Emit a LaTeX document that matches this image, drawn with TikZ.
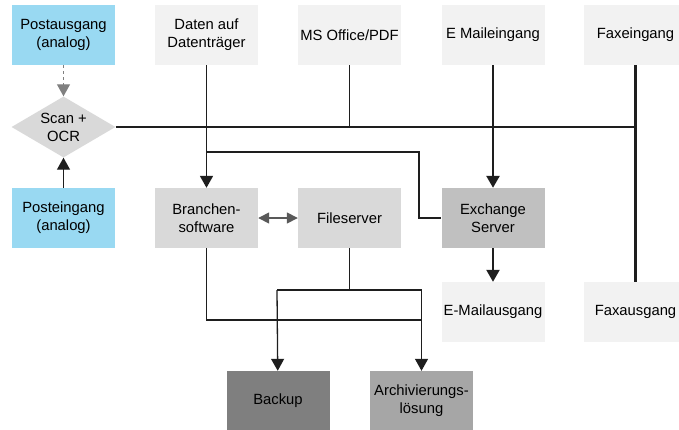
\documentclass[tikz,border=0pt]{standalone}
\usepackage{fontspec}
\setmainfont{Liberation Sans}
\usetikzlibrary{shapes.geometric,arrows.meta}
\definecolor{postblue}{RGB}{153,217,242}
\definecolor{boxlight}{RGB}{242,242,242}
\definecolor{boxmid}{RGB}{217,217,217}
\definecolor{boxexch}{RGB}{192,192,192}
\definecolor{boxarch}{RGB}{166,166,166}
\definecolor{boxback}{RGB}{127,127,127}
\definecolor{linegray}{RGB}{30,30,30}
\tikzset{
  box/.style={rectangle, minimum width=103pt, minimum height=60pt, inner sep=0pt,
    align=center, font=\fontsize{14.8}{18}\selectfont},
  conn/.style={draw=linegray, line width=1.3pt},
  tip/.style={-{Triangle[width=13pt,length=12pt]}}
}
\begin{document}
\begin{tikzpicture}[x=1pt,y=-1pt]
\useasboundingbox (0,0) rectangle (679,429);
\begin{scope}
\clip (0,0) rectangle (679,429);
\node[box, fill=postblue] (postout) at (63.5,35){Postausgang\\(analog)};
\node[box, fill=boxlight] (daten) at (206.5,35){Daten auf\\Datenträger};
\node[box, fill=boxlight] (office) at (349.5,35){MS Office/PDF};
\node[box, fill=boxlight] (mailin) at (493,35){E Maileingang};
\node[box, fill=boxlight] (faxin) at (635.5,35){Faxeingang};
\node[diamond, minimum width=104pt, minimum height=61pt, aspect=1.7, inner sep=0pt,
  fill=boxmid, align=center, font=\fontsize{14.8}{18}\selectfont] (scan) at (63.5,127){Scan +\\OCR};
\node[box, fill=postblue] (postin) at (63.5,218){Posteingang\\(analog)};
\node[box, fill=boxmid] (branche) at (206.5,218){Branchen-\\software};
\node[box, fill=boxmid] (files) at (349.5,218){Fileserver};
\node[box, fill=boxexch] (exch) at (493,218){Exchange\\Server};
\node[box, fill=boxlight] (mailout) at (493,312){E-Mailausgang};
\node[box, fill=boxlight] (faxout) at (635.5,312){Faxausgang};
\node[box, fill=boxback] (backup) at (278,401){Backup};
\node[box, fill=boxarch] (archiv) at (421.5,401){Archivierungs-\\lösung};
\end{scope}
\coordinate (bus) at (206.5,152);
\coordinate (bend) at (419,152);
\coordinate (fsplit) at (349.5,290);
\coordinate (bsplit) at (277,290);
\coordinate (asplit) at (421.5,290);
\coordinate (bline) at (206.5,320);
\draw[dashed, draw=gray, line width=1.2pt, tip](postout) -- (scan);
\draw[conn, tip](postin) -- (scan);
\draw[conn](scan.east) -- (scan.east -| faxin.south);
\draw[conn, line width=1.8pt, tip](daten) -- (branche);
\draw[conn](office) -- (office.south |- scan.east);
\draw[conn, line width=2.6pt, tip](mailin) -- (exch);
\draw[conn, line width=2.6pt](faxin) -- (faxout);
\draw[conn](bus) -- (bend) -- (bend |- exch.west) -- (exch.west);
\draw[draw=gray!70!black, line width=1.5pt, {Triangle[width=11pt,length=11pt]}-{Triangle[width=11pt,length=11pt]}](branche) -- (files);
\draw[conn, line width=2.2pt, tip](exch) -- (mailout);
\draw[conn](files) -- (fsplit);
\draw[conn](bsplit) -- (asplit);
\draw[conn, tip](bsplit) -- (backup);
\draw[conn, tip](asplit) -- (archiv);
\draw[conn](branche) -- (bline) -- (bline -| asplit);
\end{tikzpicture}
\end{document}
